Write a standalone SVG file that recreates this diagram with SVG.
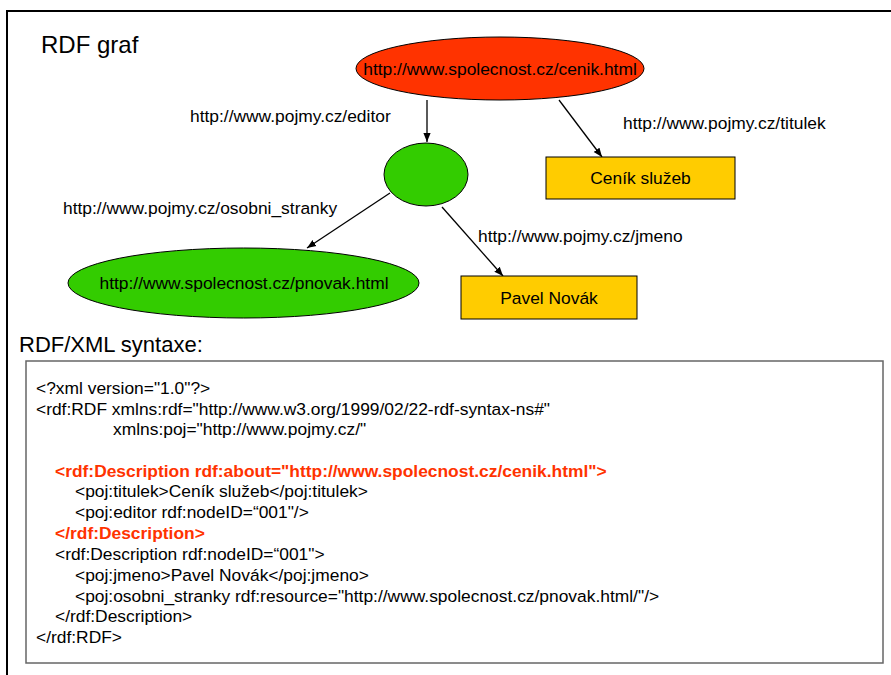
<svg xmlns="http://www.w3.org/2000/svg" width="891" height="675" viewBox="0 0 891 675">
<defs>
<style>
text{font-family:"Liberation Sans",Arial,sans-serif;fill:#000}
.lbl{font-size:17.4px}
.code{font-size:17.4px}
.red{fill:#FF3300;font-weight:bold}
.edge{stroke:#000;stroke-width:1.3;fill:none;marker-end:url(#ah)}
.node{stroke:#000;stroke-width:1}
</style>
<marker id="ah" viewBox="0 0 10 10" refX="10" refY="5" markerWidth="9" markerHeight="9" markerUnits="userSpaceOnUse" orient="auto">
<path d="M0,1 L10,5 L0,9 z" fill="#000"/>
</marker>
</defs>
<rect x="0" y="0" width="891" height="675" fill="#fff"/>
<rect x="7" y="11" width="900" height="700" fill="none" stroke="#000" stroke-width="2"/>
<text x="41" y="53" style="font-size:24px">RDF graf</text>

<g id="connectors">
<line class="edge" x1="427" y1="100" x2="427" y2="142"/>
<line class="edge" x1="559" y1="100" x2="602" y2="157"/>
<line class="edge" x1="442" y1="207" x2="503" y2="276"/>
<line class="edge" x1="390" y1="193" x2="307" y2="248"/>
<text class="lbl" x="190" y="122">http://www.pojmy.cz/editor</text>
<text class="lbl" x="623" y="129">http://www.pojmy.cz/titulek</text>
<text class="lbl" x="478" y="242">http://www.pojmy.cz/jmeno</text>
<text class="lbl" x="63" y="214">http://www.pojmy.cz/osobni_stranky</text>
</g>

<g id="cenik">
<ellipse class="node" cx="500" cy="68.5" rx="144" ry="31.5" fill="#FF3300"/>
<text class="lbl" x="500" y="75" text-anchor="middle">http://www.spolecnost.cz/cenik.html</text>
</g>
<g id="blank">
<ellipse class="node" cx="426" cy="174.5" rx="42" ry="31.5" fill="#33CC00"/>
</g>
<g id="titulek">
<rect class="node" x="546" y="157" width="189" height="42" fill="#FFCC00"/>
<text class="lbl" x="640.5" y="184" text-anchor="middle">Ceník služeb</text>
</g>
<g id="jmeno">
<rect class="node" x="461" y="276" width="176" height="43" fill="#FFCC00"/>
<text class="lbl" x="549" y="304" text-anchor="middle">Pavel Novák</text>
</g>
<g id="pnovak">
<ellipse class="node" cx="243.5" cy="283" rx="175.5" ry="35" fill="#33CC00"/>
<text class="lbl" x="244" y="289" text-anchor="middle">http://www.spolecnost.cz/pnovak.html</text>
</g>

<text x="19" y="352" style="font-size:22px">RDF/XML syntaxe:</text>

<g id="code">
<rect x="26" y="361" width="857" height="302" fill="#fff" stroke="#666" stroke-width="1.5"/>
<text class="code" x="36" y="394">&lt;?xml version="1.0"?&gt;</text>
<text class="code" x="36" y="415">&lt;rdf:RDF xmlns:rdf="http://www.w3.org/1999/02/22-rdf-syntax-ns#"</text>
<text class="code" x="113" y="435">xmlns:poj="http://www.pojmy.cz/"</text>
<text class="code red" x="55" y="477">&lt;rdf:Description rdf:about="http://www.spolecnost.cz/cenik.html"&gt;</text>
<text class="code" x="75" y="497">&lt;poj:titulek&gt;Ceník služeb&lt;/poj:titulek&gt;</text>
<text class="code" x="75" y="518">&lt;poj:editor rdf:nodeID=“001"/&gt;</text>
<text class="code red" x="55" y="539">&lt;/rdf:Description&gt;</text>
<text class="code" x="55" y="560">&lt;rdf:Description rdf:nodeID=“001"&gt;</text>
<text class="code" x="75" y="581">&lt;poj:jmeno&gt;Pavel Novák&lt;/poj:jmeno&gt;</text>
<text class="code" x="75" y="602">&lt;poj:osobni_stranky rdf:resource="http://www.spolecnost.cz/pnovak.html/"/&gt;</text>
<text class="code" x="55" y="622">&lt;/rdf:Description&gt;</text>
<text class="code" x="36" y="643">&lt;/rdf:RDF&gt;</text>
</g>
</svg>
